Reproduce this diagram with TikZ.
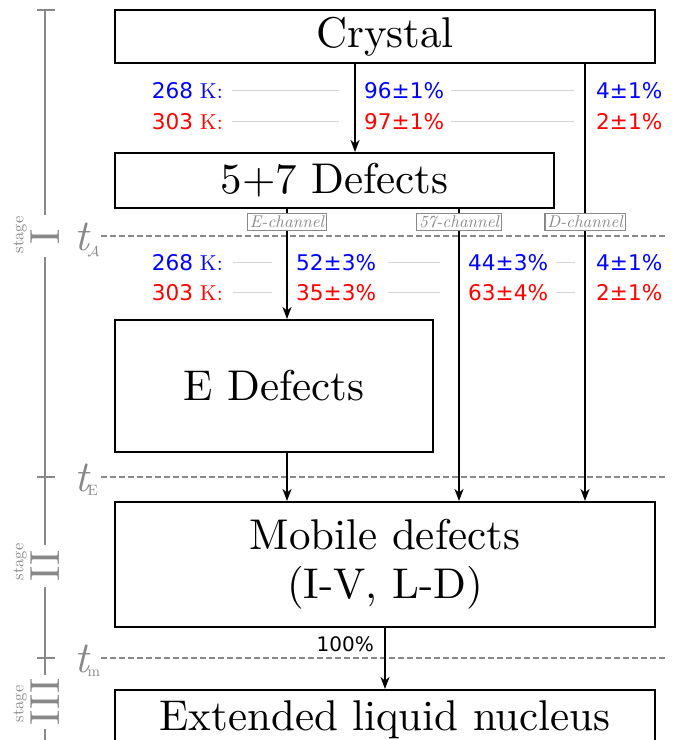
\documentclass[tikz,border=0pt]{standalone}
\usepackage{fontspec}
\setmainfont{lmroman10-regular.otf}[ItalicFont=lmroman10-italic.otf, BoldFont=lmroman10-bold.otf]
\newfontfamily\dejavu{DejaVu Sans}
\usetikzlibrary{arrows.meta,calc}
\definecolor{tl}{RGB}{136,136,136}
\definecolor{sepc}{RGB}{212,212,212}
\begin{document}
\begin{tikzpicture}[x=1pt,y=-1pt,
 box/.style={draw, line width=2pt, inner sep=0pt, align=center, font=\fontsize{43}{49}\selectfont},
 arr/.style={line width=1.5pt, -{Stealth[length=12pt,width=9pt,inset=3.5pt]}},
 chan/.style={draw=tl, text=tl, line width=1.4pt, fill=white, inner xsep=2.5pt, inner ysep=2.5pt, font=\fontsize{17}{17}\selectfont\itshape},
 pct/.style={inner sep=0pt, font=\dejavu\fontsize{21.6}{24}\selectfont},
 sepline/.style={draw=sepc, line width=0.9pt},
 tline/.style={draw=tl, line width=2pt},
 tdash/.style={draw=tl, line width=1.4pt, dash pattern=on 6pt off 3pt},
 tlab/.style={text=tl, inner sep=0pt, font=\fontsize{44}{44}\selectfont},
 stagenum/.style={text=tl, rotate=90, inner sep=0pt, font=\fontsize{42}{42}\selectfont},
 stagew/.style={text=tl, rotate=90, inner sep=0pt, font=\fontsize{16.5}{16.5}\selectfont},
]
\useasboundingbox (0,0) rectangle (678,740);
\fill[white] (0,0) rectangle (678,740);
\clip (0,0) rectangle (678,740);

% x positions of the flows
\coordinate (xa) at (355,0);
\coordinate (xb) at (585,0);
\coordinate (xc) at (287,0);
\coordinate (xd) at (459,0);
\coordinate (xe) at (385,0);

% time line
\coordinate (l0) at (45,10);
\coordinate (l1) at (45,215);
\coordinate (l2) at (45,257);
\coordinate (l3) at (45,545);
\coordinate (l4) at (45,587);
\coordinate (l5) at (45,675);
\coordinate (l6) at (45,729);
\coordinate (l7) at (45,745);
\draw[tline] (l0) -- (l1);
\draw[tline] (l2) -- (l3);
\draw[tline] (l4) -- (l5);
\draw[tline] (l6) -- (l7);
\draw[tline] (37,10) -- (55,10);
\draw[tline] (37,477) -- (55,477);
\draw[tline] (37,658) -- (55,658);

\node[stagenum] (s1) at (45,236.5) {I};
\node[stagenum] (s2) at (45,566) {II};
\node[stagenum] (s3) at (45,702) {III};
\node[stagew] (w1) at (20,235) {stage};
\node[stagew] (w2) at (20,562) {stage};
\node[stagew] (w3) at (20,704) {stage};

% time marks
\node[tlab, anchor=base west] (tA) at (74,250) {\textit{t}\kern-3pt\raisebox{-6pt}{\fontsize{15}{15}\selectfont$\mathcal{A}$}};
\node[tlab, anchor=base west] (tE) at (74,491) {\textit{t}\kern-3pt\raisebox{-4pt}{\fontsize{15}{15}\selectfont E}};
\node[tlab, anchor=base west] (tM) at (74,672) {\textit{t}\kern-3pt\raisebox{-4pt}{\fontsize{15}{15}\selectfont m}};
\draw[tdash] (101,236) -- (665,236);
\draw[tdash] (101,477) -- (665,477);
\draw[tdash] (101,658) -- (665,658);

% boxes
\node[box, minimum width=540pt, minimum height=53pt] (crystal) at (385,36.5) {Crystal};
\node[box, minimum width=439pt, minimum height=55pt] (d57) at (334.5,180.5) {5+7 Defects};
\node[box, minimum width=318pt, minimum height=132pt] (edef) at (274,386) {E Defects};
\node[box, minimum width=540pt, minimum height=125pt] (mob) at (385,564.5) {Mobile defects\\(I-V, L-D)};
\node[box, minimum width=540pt, minimum height=60pt] (eln) at (385,720) {Extended liquid nucleus};

% arrows
\draw[arr] (crystal.south -| xa) -- (d57.north -| xa);
\draw[arr] (crystal.south -| xb) -- (mob.north -| xb);
\draw[arr] (d57.south -| xc) -- (edef.north -| xc);
\draw[arr] (d57.south -| xd) -- (mob.north -| xd);
\draw[arr] (edef.south -| xc) -- (mob.north -| xc);
\draw[arr] (mob.south -| xe) -- (eln.north -| xe);

% channel labels
\node[chan] (ce) at (287,222) {E-channel};
\node[chan] (c57) at (459,222) {57-channel};
\node[chan] (cd) at (585,222) {D-channel};

% first block of percentages
\node[pct, text=blue, anchor=base east] (ka1) at (223,98) {268 {\rmfamily K:}};
\node[pct, text=red, anchor=base east] (kb1) at (223,129) {303 {\rmfamily K:}};
\node[pct, text=blue, anchor=base west] (pa1) at (364,98) {96±1\%};
\node[pct, text=red, anchor=base west] (pb1) at (364,129) {97±1\%};
\node[pct, text=blue, anchor=base west] (qa1) at (596,98) {4±1\%};
\node[pct, text=red, anchor=base west] (qb1) at (596,129) {2±1\%};
\draw[sepline] ($(ka1.east)+(9,0)$) -- ($(xa |- ka1.east)+(-16,0)$);
\draw[sepline] ($(kb1.east)+(9,0)$) -- ($(xa |- kb1.east)+(-16,0)$);
\draw[sepline] ($(pa1.east)+(7,0)$) -- ($(xb |- pa1.east)+(-11,0)$);
\draw[sepline] ($(pb1.east)+(7,0)$) -- ($(xb |- pb1.east)+(-11,0)$);

% second block of percentages
\node[pct, text=blue, anchor=base east] (ka2) at (223,270) {268 {\rmfamily K:}};
\node[pct, text=red, anchor=base east] (kb2) at (223,300) {303 {\rmfamily K:}};
\node[pct, text=blue, anchor=base west] (ea2) at (296,270) {52±3\%};
\node[pct, text=red, anchor=base west] (eb2) at (296,300) {35±3\%};
\node[pct, text=blue, anchor=base west] (fa2) at (468,270) {44±3\%};
\node[pct, text=red, anchor=base west] (fb2) at (468,300) {63±4\%};
\node[pct, text=blue, anchor=base west] (ga2) at (596,270) {4±1\%};
\node[pct, text=red, anchor=base west] (gb2) at (596,300) {2±1\%};
\draw[sepline] ($(ka2.east)+(10,0)$) -- ($(xc |- ka2.east)+(-15,0)$);
\draw[sepline] ($(kb2.east)+(10,0)$) -- ($(xc |- kb2.east)+(-15,0)$);
\draw[sepline] ($(ea2.east)+(12,0)$) -- ($(xd |- ea2.east)+(-19,0)$);
\draw[sepline] ($(eb2.east)+(12,0)$) -- ($(xd |- eb2.east)+(-19,0)$);
\draw[sepline] ($(fa2.east)+(8,0)$) -- ($(xb |- fa2.east)+(-10,0)$);
\draw[sepline] ($(fb2.east)+(8,0)$) -- ($(xb |- fb2.east)+(-10,0)$);

% last flow
\node[pct, anchor=base east, font=\dejavu\fontsize{20}{22}\selectfont] (hund) at (374,651) {100\%};
\end{tikzpicture}
\end{document}
